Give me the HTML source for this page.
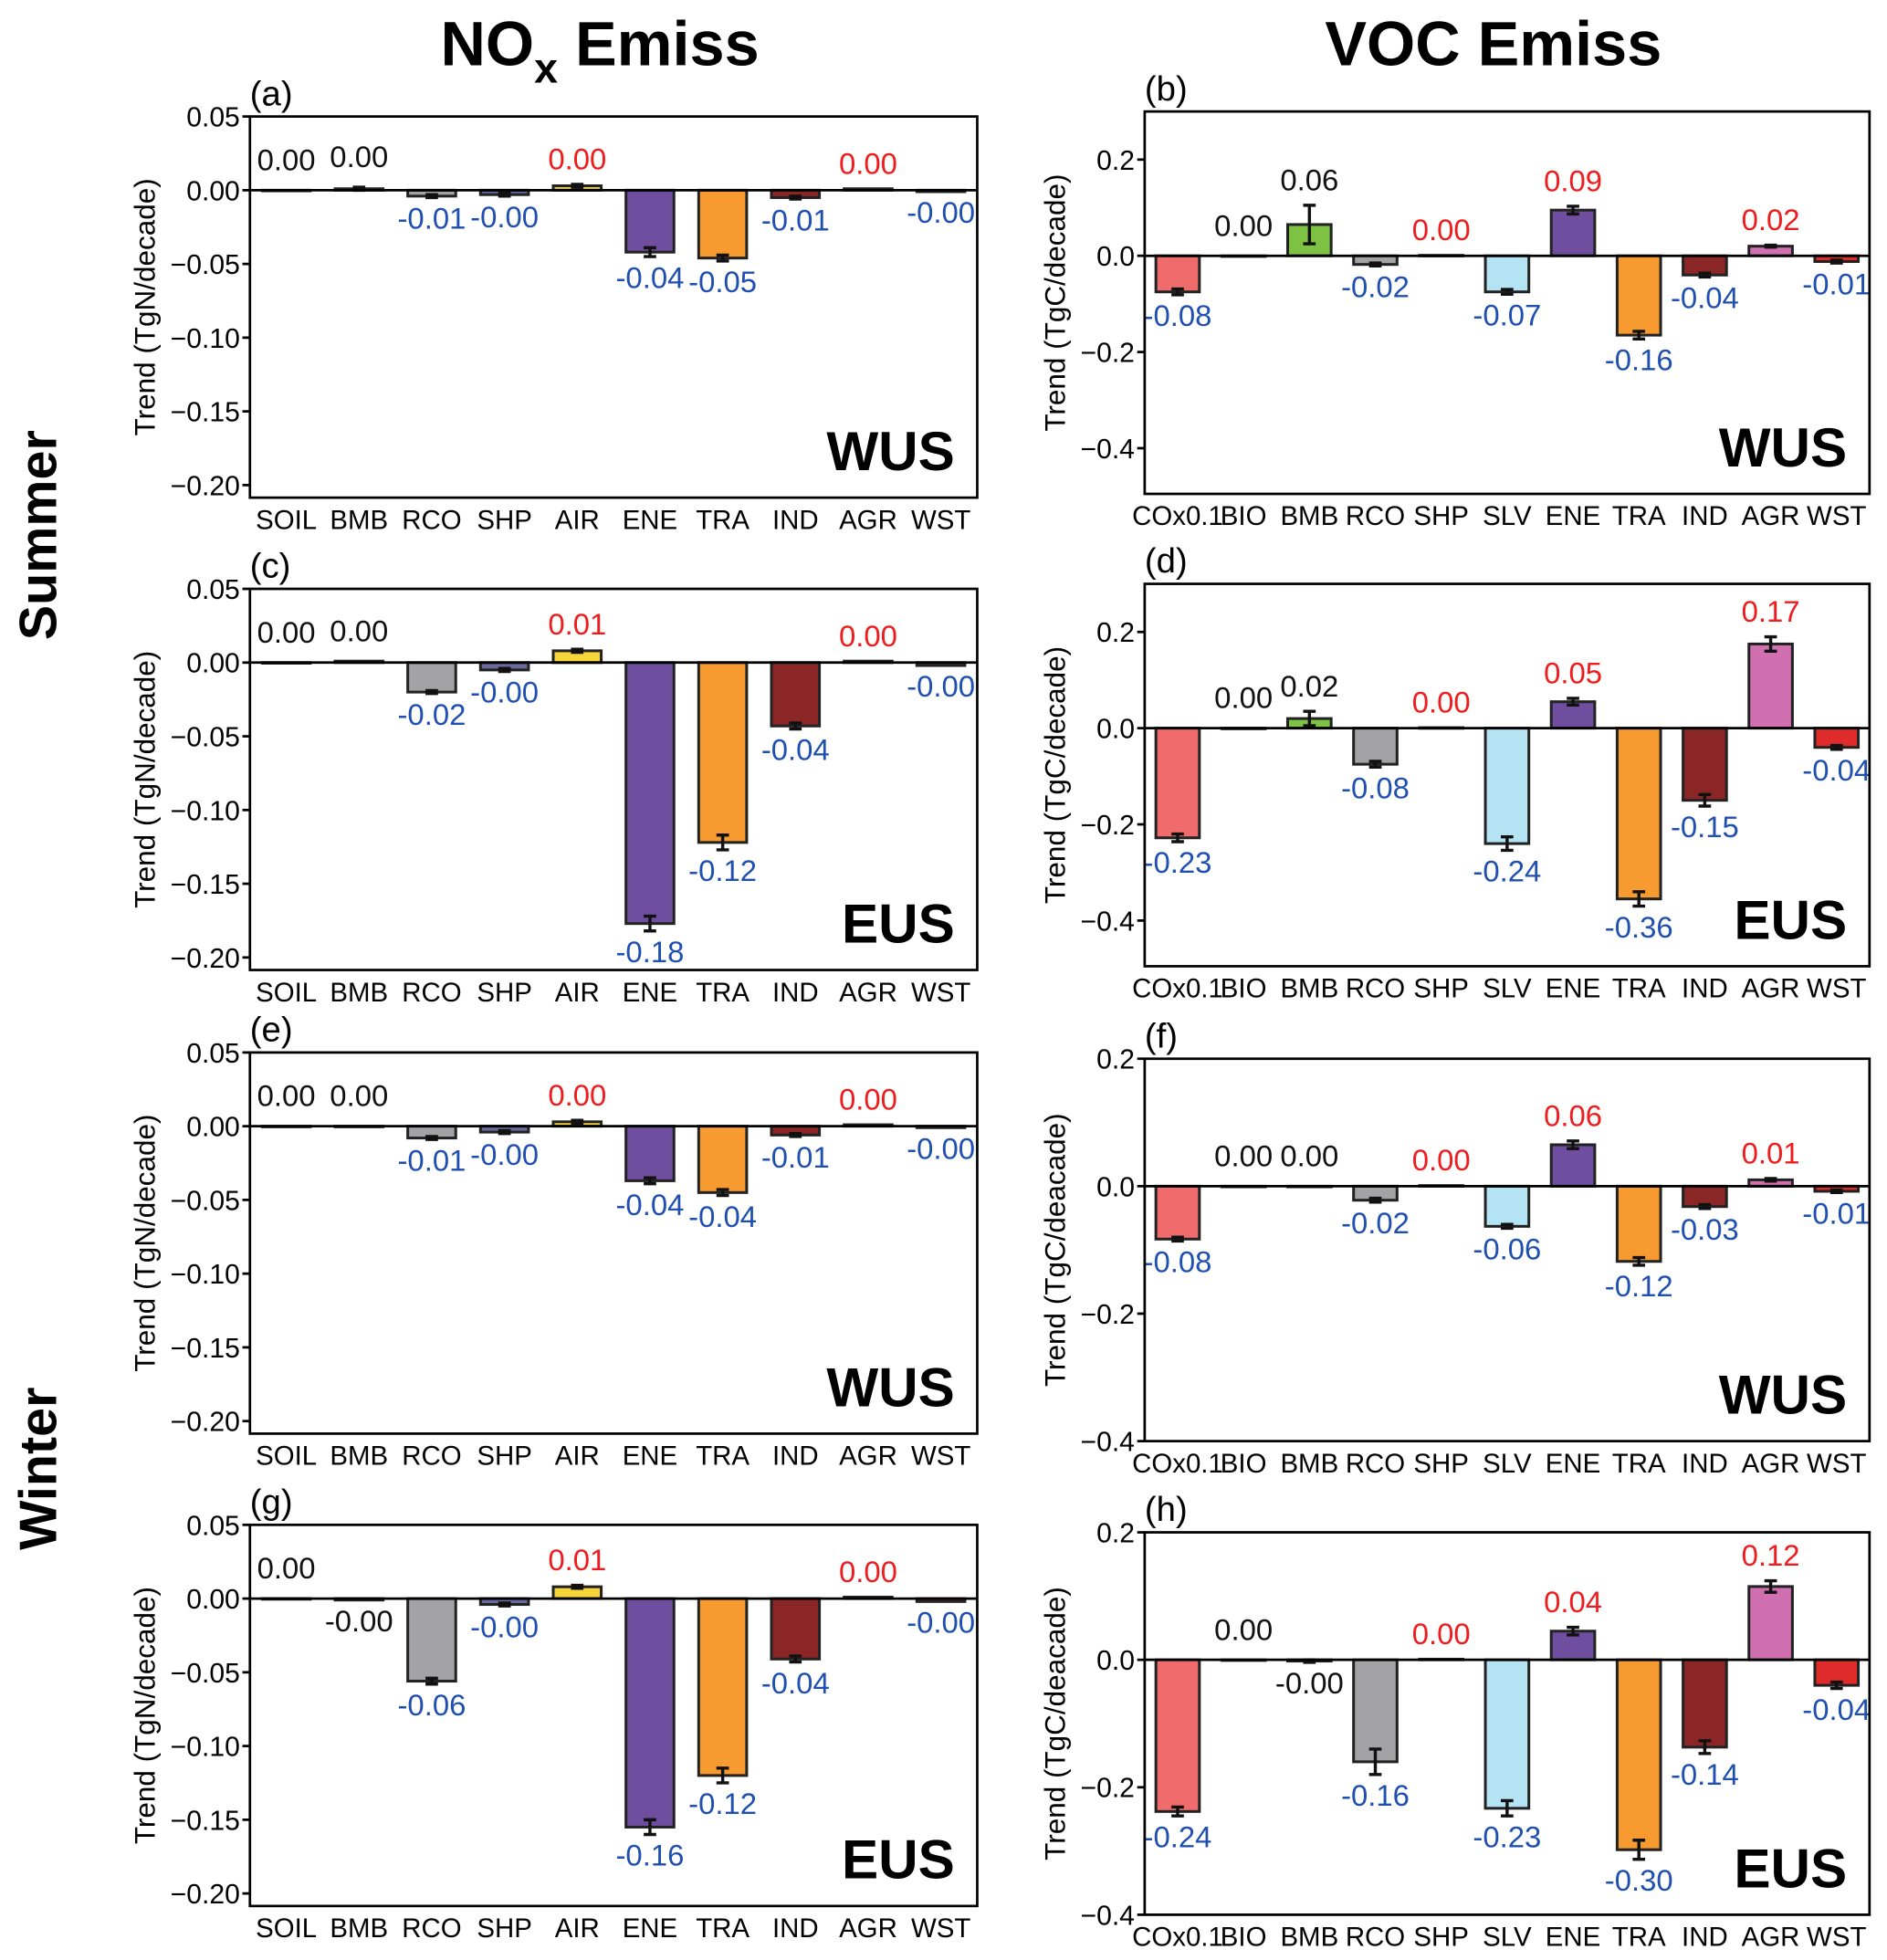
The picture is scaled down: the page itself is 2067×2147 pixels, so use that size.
<!DOCTYPE html>
<html><head><meta charset="utf-8">
<style>
html,body{margin:0;padding:0;background:#fff;}
svg{display:block;font-family:"Liberation Sans",Arial,sans-serif;}
</style></head>
<body>
<svg id="fig" width="2067" height="2147" viewBox="0 0 1510 1568" xmlns="http://www.w3.org/2000/svg">
<text x="480" y="52" font-size="50" font-weight="bold" text-anchor="middle">NO<tspan font-size="34" dy="14">x</tspan><tspan dy="-14"> Emiss</tspan></text>
<text x="1195" y="52" font-size="50" font-weight="bold" text-anchor="middle">VOC Emiss</text>
<text transform="translate(45,428) rotate(-90)" font-size="42" font-weight="bold" text-anchor="middle">Summer</text>
<text transform="translate(45,1175) rotate(-90)" font-size="42" font-weight="bold" text-anchor="middle">Winter</text>
</svg>
<script>
const noxCats = ["SOIL","BMB","RCO","SHP","AIR","ENE","TRA","IND","AGR","WST"];
const vocCats = ["COx0.1","BIO","BMB","RCO","SHP","SLV","ENE","TRA","IND","AGR","WST"];
const noxColors = ["#c8a06a","#7dc242","#a3a3a5","#6a6aa0","#f5d53a","#6f4ea0","#f79a2f","#8b2626","#d070b0","#e02b2b"];
const vocColors = ["#f06b6b","#9fd36a","#7dc242","#a3a3a5","#6a6aa0","#b4e3f3","#6f4ea0","#f79a2f","#8b2626","#d070b0","#e02b2b"];

const aValues = [0.000,0.001,-0.004,-0.003,0.003,-0.042,-0.046,-0.005,0.001,-0.001];
const aErr    = [0.000,0.001,0.001,0.001,0.001,0.003,0.002,0.001,0.000,0.000];
const aLabels = ["0.00","0.00","-0.01","-0.00","0.00","-0.04","-0.05","-0.01","0.00","-0.00"];
const aLabCol = ["k","k","b","b","r","b","b","b","r","b"];

const cValues = [0.000,0.001,-0.020,-0.005,0.008,-0.177,-0.122,-0.043,0.001,-0.002];
const cErr    = [0.000,0.000,0.001,0.001,0.001,0.005,0.005,0.002,0.000,0.000];
const cLabels = ["0.00","0.00","-0.02","-0.00","0.01","-0.18","-0.12","-0.04","0.00","-0.00"];
const cLabCol = ["k","k","b","b","r","b","b","b","r","b"];

const eValues = [0.000,0.000,-0.008,-0.004,0.003,-0.037,-0.045,-0.006,0.001,-0.001];
const eErr    = [0.000,0.000,0.001,0.001,0.001,0.002,0.002,0.001,0.000,0.000];
const eLabels = ["0.00","0.00","-0.01","-0.00","0.00","-0.04","-0.04","-0.01","0.00","-0.00"];
const eLabCol = ["k","k","b","b","r","b","b","b","r","b"];

const gValues = [0.000,-0.001,-0.056,-0.004,0.008,-0.155,-0.120,-0.041,0.001,-0.002];
const gErr    = [0.000,0.000,0.002,0.001,0.001,0.005,0.005,0.002,0.000,0.000];
const gLabels = ["0.00","-0.00","-0.06","-0.00","0.01","-0.16","-0.12","-0.04","0.00","-0.00"];
const gLabCol = ["k","k","b","b","r","b","b","b","r","b"];

const bValues = [-0.075,0.000,0.065,-0.018,0.001,-0.075,0.095,-0.165,-0.040,0.020,-0.012];
const bErr    = [0.006,0.000,0.040,0.003,0.000,0.005,0.008,0.008,0.004,0.002,0.003];
const bLabels = ["-0.08","0.00","0.06","-0.02","0.00","-0.07","0.09","-0.16","-0.04","0.02","-0.01"];
const bLabCol = ["b","k","k","b","r","b","r","b","b","r","b"];

const dValues = [-0.228,0.000,0.020,-0.075,0.001,-0.240,0.055,-0.355,-0.150,0.175,-0.040];
const dErr    = [0.008,0.000,0.015,0.006,0.000,0.014,0.007,0.015,0.012,0.015,0.004];
const dLabels = ["-0.23","0.00","0.02","-0.08","0.00","-0.24","0.05","-0.36","-0.15","0.17","-0.04"];
const dLabCol = ["b","k","k","b","r","b","r","b","b","r","b"];

const fValues = [-0.083,0.000,0.000,-0.022,0.001,-0.063,0.065,-0.118,-0.032,0.010,-0.008];
const fErr    = [0.003,0.000,0.000,0.003,0.000,0.003,0.006,0.006,0.003,0.002,0.002];
const fLabels = ["-0.08","0.00","0.00","-0.02","0.00","-0.06","0.06","-0.12","-0.03","0.01","-0.01"];
const fLabCol = ["b","k","k","b","r","b","r","b","b","r","b"];

const hValues = [-0.238,0.000,-0.002,-0.160,0.001,-0.233,0.045,-0.298,-0.137,0.115,-0.040];
const hErr    = [0.007,0.000,0.002,0.020,0.000,0.012,0.006,0.015,0.010,0.009,0.005];
const hLabels = ["-0.24","0.00","-0.00","-0.16","0.00","-0.23","0.04","-0.30","-0.14","0.12","-0.04"];
const hLabCol = ["b","k","k","b","r","b","r","b","b","r","b"];

const noxTicks = [0.05,0.00,-0.05,-0.10,-0.15,-0.20];
const noxTickLabels = ["0.05","0.00","\u22120.05","\u22120.10","\u22120.15","\u22120.20"];
const vocTicksBD = [0.2,0.0,-0.2,-0.4];
const vocTickLabelsBD = ["0.2","0.0","\u22120.2","\u22120.4"];
const vocTicksFH = [0.2,0.0,-0.2,-0.4];
const vocTickLabelsFH = ["0.2","0.0","\u22120.2","\u22120.4"];

const NS="http://www.w3.org/2000/svg";
const svg=document.getElementById('fig');
const colMap={k:"#111",r:"#ee1c1c",b:"#1f4fb0"};
function mk(tag,attrs,parent){const e=document.createElementNS(NS,tag);for(const k in attrs)e.setAttribute(k,attrs[k]);(parent||svg).appendChild(e);return e;}

function panel(p){
  const g=mk('g',{});
  
  
  const y=v=>p.y0-(v-p.vmin)/(p.vmax-p.vmin)*(p.y0-p.y1);
  const n=p.cats.length, bw=(p.x1-p.x0)/n;
  const xc=i=>p.x0+bw*(i+0.5);
  p.ticks.forEach((t,i)=>{
    const tl=mk('line',{x1:p.x0-6,x2:p.x0,y1:y(t),y2:y(t),stroke:'#000','stroke-width':2},g);
    
    
    const tt=mk('text',{x:p.x0-8,y:y(t)+8,'font-size':22,'text-anchor':'end'},g);
    
    
    tt.textContent=p.tickLabels[i];
  });
  p.vals.forEach((v,i)=>{
    const top=Math.min(y(v),y(0)), h=Math.abs(y(v)-y(0));
    const r=mk('rect',{x:xc(i)-bw*0.33,y:top,width:bw*0.66,height:Math.max(h,0.5),fill:p.colors[i],stroke:'#222','stroke-width':2.2},g);
    
    
    if(p.err[i]>0){
      const e1=y(v+p.err[i]), e2=y(v-p.err[i]);
      const el=mk('path',{d:`M${xc(i)},${e1}V${e2}M${xc(i)-5},${e1}H${xc(i)+5}M${xc(i)-5},${e2}H${xc(i)+5}`,stroke:'#111','stroke-width':2.5,fill:'none'},g);
      
      
    }
    const below = p.labels[i].charAt(0)==='-';
    const ly = below ? Math.max(y(v),y(v-p.err[i]))+25 : Math.min(y(v),y(v+p.err[i]))-12 - (p.labCol[i]==='k'&&Math.abs(v)<0.005?4:0);
    const lt=mk('text',{x:xc(i),y:ly,'font-size':24,'text-anchor':'middle',fill:colMap[p.labCol[i]]},g);
    
    
    lt.textContent=p.labels[i];
    const xl=mk('text',{x:xc(i),y:p.y0+25,'font-size':21.5,'text-anchor':'middle'},g);
    
    
    xl.textContent=p.cats[i];
  });
  const zl=mk('line',{x1:p.x0,x2:p.x1,y1:y(0),y2:y(0),stroke:'#000','stroke-width':2},g);
  
  
  const fr=mk('rect',{x:p.x0,y:p.y1,width:p.x1-p.x0,height:p.y0-p.y1,fill:'none',stroke:'#000','stroke-width':2},g);
  
  
  const pl=mk('text',{x:p.x0,y:p.y1-9,'font-size':28},g);
  
  
  pl.textContent='('+p.id+')';
  const rg=mk('text',{x:p.x1-18,y:p.y0-22,'font-size':44,'font-weight':'bold','text-anchor':'end'},g);
  
  
  rg.textContent=p.region;
  const yt=mk('text',{transform:`translate(${p.x0-p.ytOff},${(p.y0+p.y1)/2}) rotate(-90)`,'font-size':23,'text-anchor':'middle'},g);
  
  
  yt.textContent=p.ytitle;
}
const L={x0:200,x1:782,vmin:-0.2085,vmax:0.05,cats:noxCats,colors:noxColors,ticks:noxTicks,tickLabels:noxTickLabels,ytitle:"Trend  (TgN/decade)",ytOff:76};
const R={x0:916,x1:1496,cats:vocCats,colors:vocColors,ytOff:64};
panel(Object.assign({},L,{id:'a',y1:93,y0:398,vals:aValues,err:aErr,labels:aLabels,labCol:aLabCol,region:'WUS'}));
panel(Object.assign({},L,{id:'c',y1:471,y0:776,vals:cValues,err:cErr,labels:cLabels,labCol:cLabCol,region:'EUS'}));
panel(Object.assign({},L,{id:'e',y1:842,y0:1147,vals:eValues,err:eErr,labels:eLabels,labCol:eLabCol,region:'WUS'}));
panel(Object.assign({},L,{id:'g',y1:1220,y0:1525,vals:gValues,err:gErr,labels:gLabels,labCol:gLabCol,region:'EUS'}));
panel(Object.assign({},R,{id:'b',y1:89,y0:395,vmin:-0.495,vmax:0.3,ticks:vocTicksBD,tickLabels:vocTickLabelsBD,vals:bValues,err:bErr,labels:bLabels,labCol:bLabCol,region:'WUS',ytitle:"Trend  (TgC/decade)"}));
panel(Object.assign({},R,{id:'d',y1:467,y0:773,vmin:-0.495,vmax:0.3,ticks:vocTicksBD,tickLabels:vocTickLabelsBD,vals:dValues,err:dErr,labels:dLabels,labCol:dLabCol,region:'EUS',ytitle:"Trend  (TgC/decade)"}));
panel(Object.assign({},R,{id:'f',y1:847,y0:1153,vmin:-0.4,vmax:0.2,ticks:vocTicksFH,tickLabels:vocTickLabelsFH,vals:fValues,err:fErr,labels:fLabels,labCol:fLabCol,region:'WUS',ytitle:"Trend  (TgC/deacade)"}));
panel(Object.assign({},R,{id:'h',y1:1226,y0:1532,vmin:-0.4,vmax:0.2,ticks:vocTicksFH,tickLabels:vocTickLabelsFH,vals:hValues,err:hErr,labels:hLabels,labCol:hLabCol,region:'EUS',ytitle:"Trend  (TgC/deacade)"}));
</script>
</body></html>
